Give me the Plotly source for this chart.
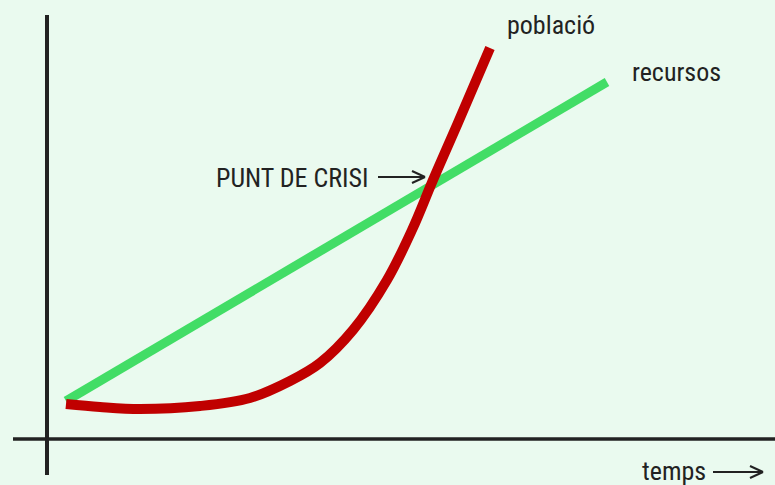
import plotly.graph_objects as go

# Data (arbitrary units: time vs quantity)
recursos_t = [1.9, 56.0]
recursos_v = [3.7, 35.6]

poblacio_t = [1.9, 5.3, 9.3, 15.3, 20.3, 24.3, 27.3, 30.6, 34.0, 36.5, 38.6, 41.0, 44.3]
poblacio_v = [3.4, 3.1, 2.9, 3.2, 4.0, 5.7, 7.5, 10.8, 15.8, 20.8, 25.8, 31.3, 39.0]

labels = {"poblacio": "població", "recursos": "recursos", "crisi": "PUNT DE CRISI", "temps": "temps"}

FONT = "Roboto Condensed, Liberation Sans Narrow, sans-serif"
BG = "#eafaef"
AX = "#222222"

fig = go.Figure()
fig.add_trace(go.Scatter(x=recursos_t, y=recursos_v, mode="lines",
                         line=dict(color="#42dd66", width=9), hoverinfo="skip"))
fig.add_trace(go.Scatter(x=poblacio_t, y=poblacio_v, mode="lines",
                         line=dict(color="#c00000", width=10, shape="spline", smoothing=1.0),
                         hoverinfo="skip"))

shapes = []
# axes
shapes.append(dict(type="line", x0=0, x1=0, y0=-3.7, y1=42.3, line=dict(color=AX, width=4), layer="below"))
shapes.append(dict(type="line", x0=-3.4, x1=72.8, y0=-0.1, y1=-0.1, line=dict(color=AX, width=3.5), layer="below"))

def arrow(x0, x1, y):
    s = [dict(type="line", x0=x0, x1=x1, y0=y, y1=y, line=dict(color=AX, width=2)),
         dict(type="line", x0=x1 - 1.3, x1=x1, y0=y + 0.6, y1=y, line=dict(color=AX, width=2)),
         dict(type="line", x0=x1 - 1.3, x1=x1, y0=y - 0.6, y1=y, line=dict(color=AX, width=2))]
    return s

shapes += arrow(33.1, 37.8, 26.1)
shapes += arrow(66.6, 71.6, -3.4)

fig.update_layout(
    width=775, height=485,
    margin=dict(l=0, r=0, t=0, b=0),
    paper_bgcolor=BG, plot_bgcolor=BG,
    showlegend=False,
    xaxis=dict(range=[-4.7, 72.8], visible=False, fixedrange=True),
    yaxis=dict(range=[-4.7, 43.8], visible=False, fixedrange=True),
    shapes=shapes,
    font=dict(family=FONT, size=26, color=AX),
    annotations=[
        dict(x=45.8, y=41.3, text=labels["poblacio"], showarrow=False, xanchor="left", yanchor="middle"),
        dict(x=58.3, y=36.6, text=labels["recursos"], showarrow=False, xanchor="left", yanchor="middle"),
        dict(x=32.4, y=26.0, text=labels["crisi"], showarrow=False, xanchor="right", yanchor="middle"),
        dict(x=66.1, y=-3.3, text=labels["temps"], showarrow=False, xanchor="right", yanchor="middle"),
    ],
)

fig.write_html("out.html", config={"displayModeBar": False},
               post_script="document.body.style.margin='0';document.body.style.background='%s';" % BG)
